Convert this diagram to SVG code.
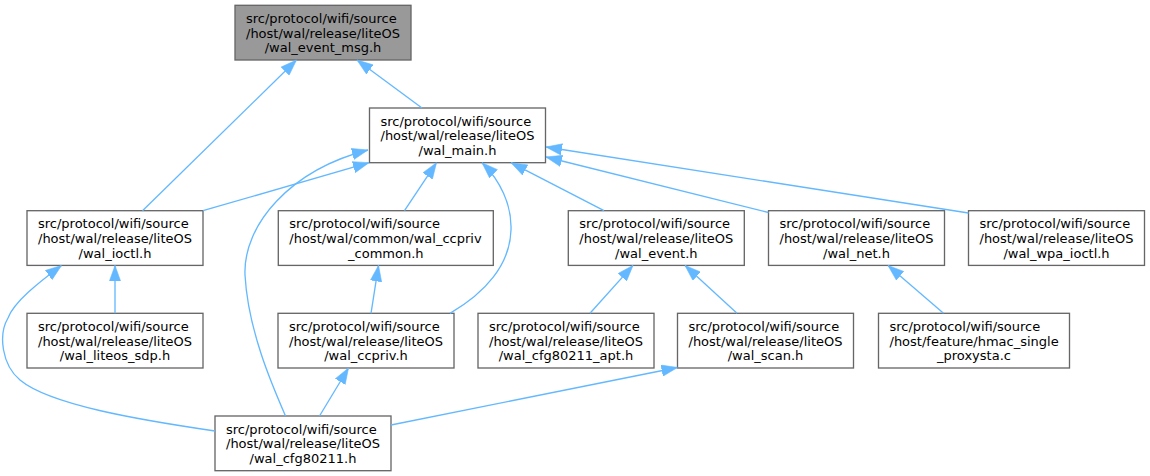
<svg xmlns="http://www.w3.org/2000/svg" width="1150" height="476" viewBox="0 0 1150 476">
<style>
.box{fill:#ffffff;stroke:#666666;stroke-width:1.33}
.root{fill:#999999;stroke:#666666;stroke-width:1.33}
text{font-family:"DejaVu Sans","Liberation Sans",sans-serif;font-size:13px;fill:#000000}
.m{text-anchor:middle}
.e{fill:none;stroke:#63b8ff;stroke-width:1.33}
</style>
<defs>
<marker id="ah" markerUnits="userSpaceOnUse" markerWidth="16" markerHeight="12" viewBox="0 0 14 10" refX="14" refY="5" orient="auto">
<path d="M0,0 L14,5 L0,10 z" fill="#63b8ff" stroke="#63b8ff" stroke-width="0.5"/>
</marker>
</defs>
<rect width="1150" height="476" fill="#ffffff"/>
<g id="n_event_msg"><rect class="root" x="235" y="5.3" width="176" height="54.7"/><text x="246" y="23">src/protocol/wifi/source</text><text x="246" y="37.7">/host/wal/release/liteOS</text><text class="m" x="323" y="52.3">/wal_event_msg.h</text></g>
<g id="n_main"><rect class="box" x="369.5" y="108" width="176" height="54.7"/><text x="380.5" y="125.7">src/protocol/wifi/source</text><text x="380.5" y="140.4">/host/wal/release/liteOS</text><text class="m" x="457.5" y="155">/wal_main.h</text></g>
<g id="n_ioctl"><rect class="box" x="27" y="210.7" width="176" height="54.7"/><text x="38" y="228.4">src/protocol/wifi/source</text><text x="38" y="243.1">/host/wal/release/liteOS</text><text class="m" x="115" y="257.7">/wal_ioctl.h</text></g>
<g id="n_ccpriv_common"><rect class="box" x="278.3" y="210.7" width="215" height="54.7"/><text x="289.3" y="228.4">src/protocol/wifi/source</text><text x="289.3" y="243.1">/host/wal/common/wal_ccpriv</text><text class="m" x="385.8" y="257.7">_common.h</text></g>
<g id="n_event"><rect class="box" x="568.3" y="210.7" width="176" height="54.7"/><text x="579.3" y="228.4">src/protocol/wifi/source</text><text x="579.3" y="243.1">/host/wal/release/liteOS</text><text class="m" x="656.3" y="257.7">/wal_event.h</text></g>
<g id="n_net"><rect class="box" x="768.5" y="210.7" width="176" height="54.7"/><text x="779.5" y="228.4">src/protocol/wifi/source</text><text x="779.5" y="243.1">/host/wal/release/liteOS</text><text class="m" x="856.5" y="257.7">/wal_net.h</text></g>
<g id="n_wpa_ioctl"><rect class="box" x="968.5" y="210.7" width="176" height="54.7"/><text x="979.5" y="228.4">src/protocol/wifi/source</text><text x="979.5" y="243.1">/host/wal/release/liteOS</text><text class="m" x="1056.5" y="257.7">/wal_wpa_ioctl.h</text></g>
<g id="n_liteos_sdp"><rect class="box" x="27" y="313.3" width="176" height="54.7"/><text x="38" y="331">src/protocol/wifi/source</text><text x="38" y="345.7">/host/wal/release/liteOS</text><text class="m" x="115" y="360.3">/wal_liteos_sdp.h</text></g>
<g id="n_ccpriv"><rect class="box" x="278" y="313.3" width="176" height="54.7"/><text x="289" y="331">src/protocol/wifi/source</text><text x="289" y="345.7">/host/wal/release/liteOS</text><text class="m" x="366" y="360.3">/wal_ccpriv.h</text></g>
<g id="n_cfg80211_apt"><rect class="box" x="478" y="313.3" width="176" height="54.7"/><text x="489" y="331">src/protocol/wifi/source</text><text x="489" y="345.7">/host/wal/release/liteOS</text><text class="m" x="566" y="360.3">/wal_cfg80211_apt.h</text></g>
<g id="n_scan"><rect class="box" x="677.5" y="313.3" width="176" height="54.7"/><text x="688.5" y="331">src/protocol/wifi/source</text><text x="688.5" y="345.7">/host/wal/release/liteOS</text><text class="m" x="765.5" y="360.3">/wal_scan.h</text></g>
<g id="n_hmac_proxysta"><rect class="box" x="878.5" y="313.3" width="191" height="54.7"/><text x="889.5" y="331">src/protocol/wifi/source</text><text x="889.5" y="345.7">/host/feature/hmac_single</text><text class="m" x="974" y="360.3">_proxysta.c</text></g>
<g id="n_cfg80211"><rect class="box" x="215" y="416" width="176" height="54.7"/><text x="226" y="433.7">src/protocol/wifi/source</text><text x="226" y="448.4">/host/wal/release/liteOS</text><text class="m" x="303" y="463">/wal_cfg80211.h</text></g>
<g id="edges">
<path class="e" marker-end="url(#ah)" d="M142.5,210.7 L296.5,60"/>
<path class="e" marker-end="url(#ah)" d="M422,108 L357,60"/>
<path class="e" marker-end="url(#ah)" d="M203,210.7 L369,162.7"/>
<path class="e" marker-end="url(#ah)" d="M285.5,416 C272,385 248,330 245,275 C243,225 290,170 368,150"/>
<path class="e" marker-end="url(#ah)" d="M404.5,210.7 L436.5,162.7"/>
<path class="e" marker-end="url(#ah)" d="M450,313.3 C485,293 510,265 511,230 C512,205 500,180 482,162.7"/>
<path class="e" marker-end="url(#ah)" d="M604,210.7 L511,162.7"/>
<path class="e" marker-end="url(#ah)" d="M768.5,212.5 L546,157"/>
<path class="e" marker-end="url(#ah)" d="M968.5,213 L546,147"/>
<path class="e" marker-end="url(#ah)" d="M215,431 C140,420 50,405 20,380 C2,365 -2,335 8,318 C14,302 38,283 61.5,265.5"/>
<path class="e" marker-end="url(#ah)" d="M115,313.3 L115,265.4"/>
<path class="e" marker-end="url(#ah)" d="M371,313.3 L378.5,265.4"/>
<path class="e" marker-end="url(#ah)" d="M590,313.3 L633,265.4"/>
<path class="e" marker-end="url(#ah)" d="M737,313.3 L685,265.4"/>
<path class="e" marker-end="url(#ah)" d="M943.5,313.3 L888,265.4"/>
<path class="e" marker-end="url(#ah)" d="M391,425 L677.5,367.5"/>
<path class="e" marker-end="url(#ah)" d="M319.5,416 L348.5,368"/>
</g>
</svg>
